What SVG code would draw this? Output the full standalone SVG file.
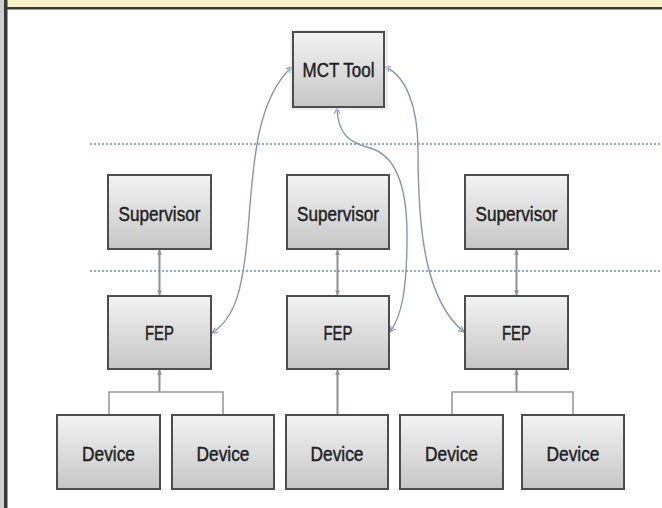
<svg xmlns="http://www.w3.org/2000/svg" width="662" height="508" viewBox="0 0 662 508">
<defs>
<linearGradient id="boxg" x1="0" y1="0" x2="0" y2="1">
<stop offset="0" stop-color="#f3f3f3"/>
<stop offset="1" stop-color="#c6c6c6"/>
</linearGradient>
<marker id="ab" viewBox="0 0 10 10" refX="9" refY="5" markerWidth="7" markerHeight="7" markerUnits="userSpaceOnUse" orient="auto-start-reverse">
<path d="M1,1 L9,5 L1,9" fill="none" stroke="#8497b3" stroke-width="1.6"/>
</marker>
<marker id="ag" viewBox="0 0 10 10" refX="9" refY="5" markerWidth="6" markerHeight="6" markerUnits="userSpaceOnUse" orient="auto-start-reverse">
<path d="M1,1 L9,5 L1,9 Z" fill="#8a909a"/>
</marker>
<style>
.box{fill:url(#boxg);stroke:#4d4d4d;stroke-width:2}
.sh{fill:#e2e2e2;opacity:0.6}
.lbl{font-family:"Liberation Sans",Arial,sans-serif;font-size:21px;fill:#1e1e1e;stroke:#1e1e1e;stroke-width:0.45;text-anchor:middle}
.dot{stroke:#97abc3;stroke-width:2;stroke-dasharray:2 2;fill:none}
.curve{fill:none;stroke:#8497b3;stroke-width:1.4;marker-start:url(#ab);marker-end:url(#ab)}
.vert{fill:none;stroke:#8a909a;stroke-width:2}
.br{fill:none;stroke:#9a9a9a;stroke-width:1.6}
</style>
</defs>
<rect width="662" height="508" fill="#ffffff"/>
<rect x="0" y="0" width="662" height="7" fill="#f7f2c6"/>
<rect x="0" y="0" width="4" height="508" fill="#cfcfcf"/>
<rect x="4" y="7" width="658" height="2.5" fill="#3a3a3a"/>
<rect x="4" y="0" width="3.5" height="508" fill="#3a3a3a"/>

<g id="separators">
<line class="dot" x1="90" y1="144" x2="662" y2="144"/>
<line class="dot" x1="90" y1="271" x2="662" y2="271"/>
</g>

<g id="connectors">
<path class="curve" d="M212,333 C235,318 243,290 248,230 S255,100 292,67"/>
<path class="curve" d="M337,108 C338,135 350,143 370,148 C395,155 407,185 407,235 C407,290 402,315 390,332"/>
<path class="curve" d="M385,67 C405,75 418,105 418,150 C418,230 425,300 464,332"/>
<line class="vert" x1="159.5" y1="250" x2="159.5" y2="295" marker-start="url(#ag)" marker-end="url(#ag)"/>
<line class="vert" x1="337.5" y1="250" x2="337.5" y2="295" marker-start="url(#ag)" marker-end="url(#ag)"/>
<line class="vert" x1="516.5" y1="250" x2="516.5" y2="295" marker-start="url(#ag)" marker-end="url(#ag)"/>
<path class="br" d="M109,414 V392 H223 V414"/>
<line class="vert" x1="159.5" y1="392" x2="159.5" y2="370" marker-end="url(#ag)"/>
<line class="vert" x1="337.5" y1="414" x2="337.5" y2="370" marker-end="url(#ag)"/>
<path class="br" d="M452,414 V392 H573 V414"/>
<line class="vert" x1="516.5" y1="392" x2="516.5" y2="370" marker-end="url(#ag)"/>
</g>

<g id="mct">
<rect class="sh" x="290" y="30" width="98" height="80"/>
<rect class="box" x="293" y="32" width="91" height="75"/>
<text class="lbl" x="338.5" y="77" textLength="72" lengthAdjust="spacingAndGlyphs">MCT Tool</text>
</g>

<g id="sup1">
<rect class="box" x="108" y="175" width="103" height="74"/>
<text class="lbl" x="159.5" y="221" textLength="82" lengthAdjust="spacingAndGlyphs">Supervisor</text>
</g>
<g id="sup2">
<rect class="box" x="287" y="175" width="102" height="74"/>
<text class="lbl" x="338" y="221" textLength="82" lengthAdjust="spacingAndGlyphs">Supervisor</text>
</g>
<g id="sup3">
<rect class="box" x="465" y="175" width="103" height="74"/>
<text class="lbl" x="516.5" y="221" textLength="82" lengthAdjust="spacingAndGlyphs">Supervisor</text>
</g>

<g id="fep1">
<rect class="box" x="108" y="296" width="103" height="73"/>
<text class="lbl" x="159.5" y="340" textLength="29" lengthAdjust="spacingAndGlyphs">FEP</text>
</g>
<g id="fep2">
<rect class="box" x="287" y="296" width="102" height="73"/>
<text class="lbl" x="338" y="340" textLength="29" lengthAdjust="spacingAndGlyphs">FEP</text>
</g>
<g id="fep3">
<rect class="box" x="465" y="296" width="103" height="73"/>
<text class="lbl" x="516.5" y="340" textLength="29" lengthAdjust="spacingAndGlyphs">FEP</text>
</g>

<g id="dev1">
<rect class="box" x="57" y="415" width="103" height="74"/>
<text class="lbl" x="108.5" y="461" textLength="53" lengthAdjust="spacingAndGlyphs">Device</text>
</g>
<g id="dev2">
<rect class="box" x="172" y="415" width="102" height="74"/>
<text class="lbl" x="223" y="461" textLength="53" lengthAdjust="spacingAndGlyphs">Device</text>
</g>
<g id="dev3">
<rect class="box" x="286" y="415" width="102" height="74"/>
<text class="lbl" x="337" y="461" textLength="53" lengthAdjust="spacingAndGlyphs">Device</text>
</g>
<g id="dev4">
<rect class="box" x="400" y="415" width="103" height="74"/>
<text class="lbl" x="451.5" y="461" textLength="53" lengthAdjust="spacingAndGlyphs">Device</text>
</g>
<g id="dev5">
<rect class="box" x="522" y="415" width="102" height="74"/>
<text class="lbl" x="573" y="461" textLength="53" lengthAdjust="spacingAndGlyphs">Device</text>
</g>
</svg>
